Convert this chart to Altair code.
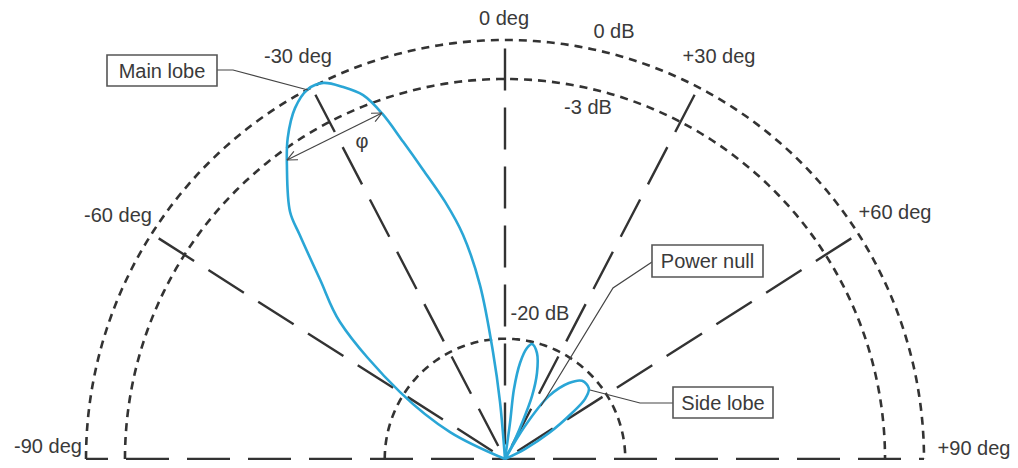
import altair as alt
import numpy as np
import pandas as pd

# ---------------- values ----------------
# concentric level rings (radius relative to the 0 dB ring)
ring_label = ["0 dB", "-3 dB", "-20 dB"]
ring_level = [1.0, 0.907, 0.287]

# angular grid spokes (angle as drawn, degrees from vertical)
spoke_label = ["-60 deg", "-30 deg", "0 deg", "+30 deg", "+60 deg"]
spoke_angle = [-57.5, -27.5, 0.0, 27.5, 57.5]
spoke_len = 0.98

# radiation pattern: main lobe
main_angle = [-3.0, -5.0, -6.4, -8.2, -10.6, -13.1, -15.8, -17.8, -19.6,
              -21.3, -23.5, -25.8, -28.1, -30.9, -34.1, -36.6, -41.0, -42.5,
              -45.9, -50.3, -57.5, -63.9, -70.0]
main_r = [0.0, 0.137, 0.257, 0.420, 0.544, 0.630, 0.717, 0.795, 0.876,
          0.932, 0.968, 0.997, 1.0, 0.976, 0.925, 0.873, 0.782, 0.725,
          0.614, 0.512, 0.297, 0.146, 0.0]

# first small lobe
lobe1_angle = [5.0, 7.9, 7.3, 8.9, 11.2, 13.2, 16.8, 20.4, 23.2, 25.3, 28.3, 30.0]
lobe1_r = [0.0, 0.087, 0.168, 0.232, 0.270, 0.282, 0.264, 0.219, 0.164, 0.095, 0.035, 0.0]

# side lobe
lobe2_angle = [30.0, 31.2, 34.9, 40.1, 44.6, 49.8, 53.1, 55.5, 59.4, 63.4, 65.0]
lobe2_r = [0.0, 0.092, 0.183, 0.237, 0.262, 0.262, 0.239, 0.194, 0.122, 0.053, 0.0]

# ---------------- geometry helpers ----------------
R = 419.0          # pixel radius of the 0 dB ring
CX, CY = 505.0, 464.0   # reference centre (for annotation placement)


def polar(theta_deg, r):
    t = np.radians(np.asarray(theta_deg, dtype=float))
    rr = np.asarray(r, dtype=float) * R
    return rr * np.sin(t), rr * np.cos(t)


def ref(px, py):
    return px - CX, CY - py


xs = alt.Scale(domain=[-497, 505], nice=False, zero=False)
ys = alt.Scale(domain=[-1, 451], nice=False, zero=False)
X = lambda f="X": alt.X(f"{f}:Q", scale=xs, axis=None)
Y = lambda f="Y": alt.Y(f"{f}:Q", scale=ys, axis=None)

INK = "#333333"
BLUE = "#2aa6d6"
FONT = "Liberation Sans"

# rings
rows = []
for name, lev in zip(ring_label, ring_level):
    t = np.arange(-90, 91, 1.0)
    x, y = polar(t, np.full_like(t, lev))
    for i in range(len(t)):
        rows.append({"ring": name, "o": i, "X": x[i], "Y": y[i]})
rings_df = pd.DataFrame(rows)

# spokes
rows = []
for name, a in zip(spoke_label, spoke_angle):
    x, y = polar([a, a], [spoke_len, 0.0])
    rows.append({"spoke": name, "o": 0, "X": x[0], "Y": y[0]})
    rows.append({"spoke": name, "o": 1, "X": x[1], "Y": y[1]})
spokes_df = pd.DataFrame(rows)

bx, by = polar([-90, 90], [1.0, 1.0])
base_df = pd.DataFrame({"o": [0, 1], "X": bx, "Y": by})

# lobes
rows = []
for name, ang, rad in [("main", main_angle, main_r), ("l1", lobe1_angle, lobe1_r),
                       ("l2", lobe2_angle, lobe2_r)]:
    x, y = polar(ang, rad)
    for i in range(len(ang)):
        rows.append({"lobe": name, "o": i, "X": x[i], "Y": y[i]})
lobes_df = pd.DataFrame(rows)

# text labels (reference pixel centres)
label_txt = ["0 deg", "0 dB", "-3 dB", "-30 deg", "+30 deg", "-60 deg", "+60 deg",
             "-90 deg", "+90 deg", "-20 dB", "φ"]
label_pos = [(504, 24), (614, 37), (588, 113), (298, 62), (719, 62), (118, 221),
             (895, 218), (48, 452), (974, 454), (540, 319), (362, 147)]
lab_df = pd.DataFrame({"t": label_txt,
                       "X": [ref(*p)[0] for p in label_pos],
                       "Y": [ref(*p)[1] for p in label_pos]})

# callout boxes
box_txt = ["Main lobe", "Power null", "Side lobe"]
box_rect = [(107, 60, 217, 91), (652, 250, 763, 282), (673, 392, 773, 423)]
box_df = pd.DataFrame({
    "t": box_txt,
    "X": [ref(b[0], b[1])[0] for b in box_rect],
    "Y": [ref(b[0], b[1])[1] for b in box_rect],
    "X2": [ref(b[2], b[3])[0] for b in box_rect],
    "Y2": [ref(b[2], b[3])[1] for b in box_rect],
    "XC": [ref((b[0] + b[2]) / 2, (b[1] + b[3]) / 2)[0] for b in box_rect],
    "YC": [ref((b[0] + b[2]) / 2, (b[1] + b[3]) / 2 + 1)[1] for b in box_rect],
})

# leader lines
leaders = {
    "main": [(217, 75), (233, 75), (308, 95)],
    "null": [(652, 267), (613, 293), (541, 411)],
    "side": [(673, 408), (640, 408), (590, 395)],
}
rows = []
for k, pts in leaders.items():
    for i, p in enumerate(pts):
        x, y = ref(*p)
        rows.append({"id": k, "o": i, "X": x, "Y": y})

# phi double arrow
p1 = np.array(ref(287, 165))
p2 = np.array(ref(382, 118))
rows.append({"id": "shaft", "o": 0, "X": p1[0], "Y": p1[1]})
rows.append({"id": "shaft", "o": 1, "X": p2[0], "Y": p2[1]})
for tip, other, nm in [(p1, p2, "h1"), (p2, p1, "h2")]:
    d = (other - tip) / np.linalg.norm(other - tip)
    for s, sgn in [("a", 1), ("b", -1)]:
        a = np.radians(25) * sgn
        rot = np.array([d[0] * np.cos(a) - d[1] * np.sin(a),
                        d[0] * np.sin(a) + d[1] * np.cos(a)])
        q = tip + 11 * rot
        rows.append({"id": nm + s, "o": 0, "X": q[0], "Y": q[1]})
        rows.append({"id": nm + s, "o": 1, "X": tip[0], "Y": tip[1]})
lead_df = pd.DataFrame(rows)

# ---------------- layers ----------------
rings = alt.Chart(rings_df).mark_line(color=INK, strokeWidth=2.6, strokeDash=[8, 6]).encode(
    x=X(), y=Y(), detail="ring:N", order="o:Q")
spokes = alt.Chart(spokes_df).mark_line(color=INK, strokeWidth=2.4, strokeDash=[42, 17]).encode(
    x=X(), y=Y(), detail="spoke:N", order="o:Q")
base = alt.Chart(base_df).mark_line(color=INK, strokeWidth=2.6, strokeDash=[43, 18],
                                    strokeDashOffset=21).encode(x=X(), y=Y(), order="o:Q")
lobes = alt.Chart(lobes_df).mark_line(color=BLUE, strokeWidth=2.6, interpolate="catmull-rom").encode(
    x=X(), y=Y(), detail="lobe:N", order="o:Q")
leads = alt.Chart(lead_df).mark_line(color="#444444", strokeWidth=1.2).encode(
    x=X(), y=Y(), detail="id:N", order="o:Q")
boxes = alt.Chart(box_df).mark_rect(fill="white", stroke="#555555", strokeWidth=1.6).encode(
    x=X(), y=Y(), x2="X2:Q", y2="Y2:Q")
box_text = alt.Chart(box_df).mark_text(font=FONT, fontSize=20, color="#3a3a3a",
                                       align="center", baseline="middle").encode(
    x=X("XC"), y=Y("YC"), text="t:N")
labels = alt.Chart(lab_df).mark_text(font=FONT, fontSize=20, color="#3a3a3a",
                                     align="center", baseline="middle").encode(
    x=X(), y=Y(), text="t:N")

chart = alt.layer(rings, spokes, base, lobes, leads, boxes, box_text, labels).properties(
    width=1002, height=452, autosize=alt.AutoSizeParams(type="none"), padding=0,
    background="white"
).configure_view(strokeWidth=0)

chart.save("out.html", embed_options={"renderer": "svg", "actions": False})
